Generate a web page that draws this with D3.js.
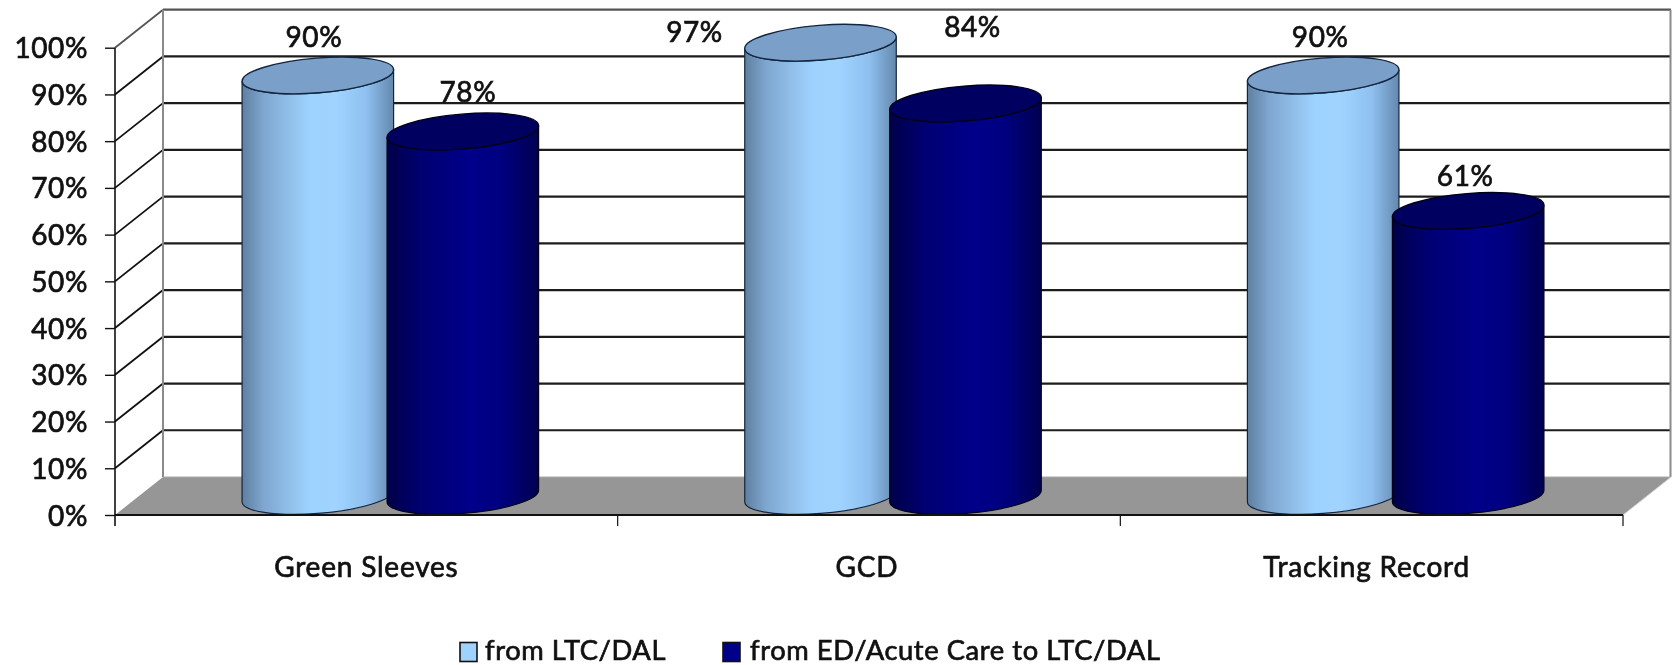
<!DOCTYPE html>
<html><head><meta charset="utf-8">
<script src="https://cdn.jsdelivr.net/npm/d3@7/dist/d3.min.js"></script>
<style>html,body{margin:0;padding:0;background:#fff}svg{display:block;filter:blur(0.4px)}text{font-family:Lato,"Open Sans",sans-serif;fill:#111;stroke:#111;stroke-width:0.7px;font-weight:400;letter-spacing:0.6px}</style>
</head><body><svg id="c" width="1673" height="665"></svg>
<script>
const categories = ["Green Sleeves", "GCD", "Tracking Record"];
const seriesNames = ["from LTC/DAL", "from ED/Acute Care to LTC/DAL"];
const fromLtc = [90, 97, 90];
const fromEd = [78, 84, 61];
const yTicks = [0,10,20,30,40,50,60,70,80,90,100];

// layout
const W=1673,H=665, x0=115,x1=1623,y0=515,y100=47.7, dx=48,dy=-38;
const rx=76, ry=17.4, phi=-4.6, barGap=143;
const labelShift=[[[-4,-38],[5,-39]],[[-126,-11],[7,-76]],[[-3,-38],[-3,-35]]];
const catShift=[0,-2,-5];
const colors=[{top:"#7a9fc8",edge:"#14263f",id:"gL",stops:[["0%","#5f7f9f"],["14%","#7ea6cf"],["45%","#9fd3ff"],["62%","#a0d4ff"],["82%","#8fc0f0"],["100%","#6488ad"]]},
              {top:"#000060",edge:"#000018",id:"gD",stops:[["0%","#000048"],["22%","#000070"],["55%","#00008a"],["75%","#000080"],["100%","#000050"]]}];

const svg=d3.select("#c");
const y=d3.scaleLinear().domain([0,100]).range([y0,y100]);
const x=d3.scaleBand().domain(categories).range([x0,x1]);

const defs=svg.append("defs");
colors.forEach(c=>{const g=defs.append("linearGradient").attr("id",c.id);
  c.stops.forEach(s=>g.append("stop").attr("offset",s[0]).attr("stop-color",s[1]));});

// floor and walls
svg.append("polygon").attr("points",[[x0,y0],[x0+dx,y0+dy],[x1+dx,y0+dy],[x1,y0]].join(" ")).attr("fill","#969696");
const grid=svg.append("g");
yTicks.forEach(t=>{
  const yy=y(t);
  if(t>0){
    grid.append("line").attr("x1",x0+dx).attr("x2",x1+dx).attr("y1",yy+dy).attr("y2",yy+dy)
      .attr("stroke",t===100?"#555":"#1c1c1c").attr("stroke-width",2.2);
    grid.append("line").attr("x1",x0).attr("x2",x0+dx).attr("y1",yy).attr("y2",yy+dy)
      .attr("stroke",t===100?"#555":"#111").attr("stroke-width",1.8);
  }
});
grid.append("line").attr("x1",x0+dx).attr("x2",x0+dx).attr("y1",y(100)+dy).attr("y2",y0+dy).attr("stroke","#8a8a8a").attr("stroke-width",2);
grid.append("line").attr("x1",x1+dx-.5).attr("x2",x1+dx-.5).attr("y1",y(100)+dy).attr("y2",y0+dy).attr("stroke","#8a8a8a").attr("stroke-width",2);
grid.append("line").attr("x1",x0+dx).attr("x2",x1+dx).attr("y1",y0+dy).attr("y2",y0+dy).attr("stroke","#aaa").attr("stroke-width",1);
grid.append("line").attr("x1",x1).attr("x2",x1+dx).attr("y1",y0).attr("y2",y0+dy).attr("stroke","#ccc").attr("stroke-width",1);

// cylinders
const rad=phi*Math.PI/180, ct=Math.cos(rad), st=Math.sin(rad);
const t=Math.atan2(-ry*st, rx*ct);
const ex=rx*Math.cos(t)*ct-ry*Math.sin(t)*st, ey=rx*Math.cos(t)*st+ry*Math.sin(t)*ct;
function body(cx,cyTop,cyBase){
  return `M${cx-ex},${cyTop-ey}L${cx-ex},${cyBase-ey}A${rx},${ry} ${phi} 0 0 ${cx+ex},${cyBase+ey}L${cx+ex},${cyTop+ey}A${rx},${ry} ${phi} 0 1 ${cx-ex},${cyTop-ey}Z`;
}
const depthX=dx/2, depthY=dy/2;
const bars=svg.append("g");
[fromLtc,fromEd].forEach((vals,s)=>{
  categories.forEach((cat,i)=>{
    const cx=x(cat)+x.bandwidth()/2+depthX+(s===0?-barGap/2-1:barGap/2+1);
    const cyBase=y(0)+depthY, cyTop=y(vals[i])+depthY;
    const c=colors[s];
    bars.append("path").attr("d",body(cx,cyTop,cyBase)).attr("fill",`url(#${c.id})`).attr("stroke",c.edge).attr("stroke-width",1.2);
    bars.append("ellipse").attr("cx",cx).attr("cy",cyTop).attr("rx",rx).attr("ry",ry)
      .attr("transform",`rotate(${phi} ${cx} ${cyTop})`).attr("fill",c.top).attr("stroke",c.edge).attr("stroke-width",1.4);
  });
});
// data labels
[fromLtc,fromEd].forEach((vals,s)=>{
  categories.forEach((cat,i)=>{
    const cx=x(cat)+x.bandwidth()/2+depthX+(s===0?-barGap/2-1:barGap/2+1);
    svg.append("text").attr("x",cx+labelShift[i][s][0]).attr("y",y(vals[i])+depthY+labelShift[i][s][1])
      .attr("dy","0.35em").attr("text-anchor","middle").attr("font-size",28).text(vals[i]+"%");
  });
});

// axes
const ya=svg.append("g").attr("transform",`translate(${x0},0)`)
  .call(d3.axisLeft(y).tickValues(yTicks).tickFormat(d=>d+"%").tickSize(10).tickPadding(17));
ya.select(".domain").attr("stroke","#111").attr("stroke-width",1.6).attr("d",`M0,${y(100)}V${y0+11}`);
ya.selectAll(".tick line").attr("stroke","#111").attr("stroke-width",1.4);
ya.selectAll("text").attr("font-size",28).attr("fill","#111").style("font-family","Lato").attr("dy","0.36em");

const xa=svg.append("g").attr("transform",`translate(0,${y0})`)
  .call(d3.axisBottom(x).tickSize(0).tickPadding(52));
xa.select(".domain").attr("stroke","#111").attr("stroke-width",2).attr("d",`M${x0},0H${x1}`);
xa.selectAll("text").attr("font-size",28).attr("fill","#111").style("font-family","Lato").attr("dy","0.35em")
  .style("letter-spacing","0.8px").attr("dx",(d,i)=>catShift[i]);
categories.concat(["end"]).forEach((c,i)=>{
  if(i===0) return;
  const bx=x0+x.step()*i;
  xa.append("line").attr("x1",bx).attr("x2",bx).attr("y1",0).attr("y2",11).attr("stroke","#111").attr("stroke-width",1.2);
});

// legend
const legendX=[460,723], textX=[485,750];
seriesNames.forEach((n,i)=>{
  svg.append("rect").attr("x",legendX[i]).attr("y",642.5).attr("width",17).attr("height",19)
    .attr("fill",i===0?"#9fd3ff":"#000088").attr("stroke","#111").attr("stroke-width",1.6);
  svg.append("text").attr("x",textX[i]).attr("y",660).attr("font-size",27.3).text(n);
});
</script></body></html>
